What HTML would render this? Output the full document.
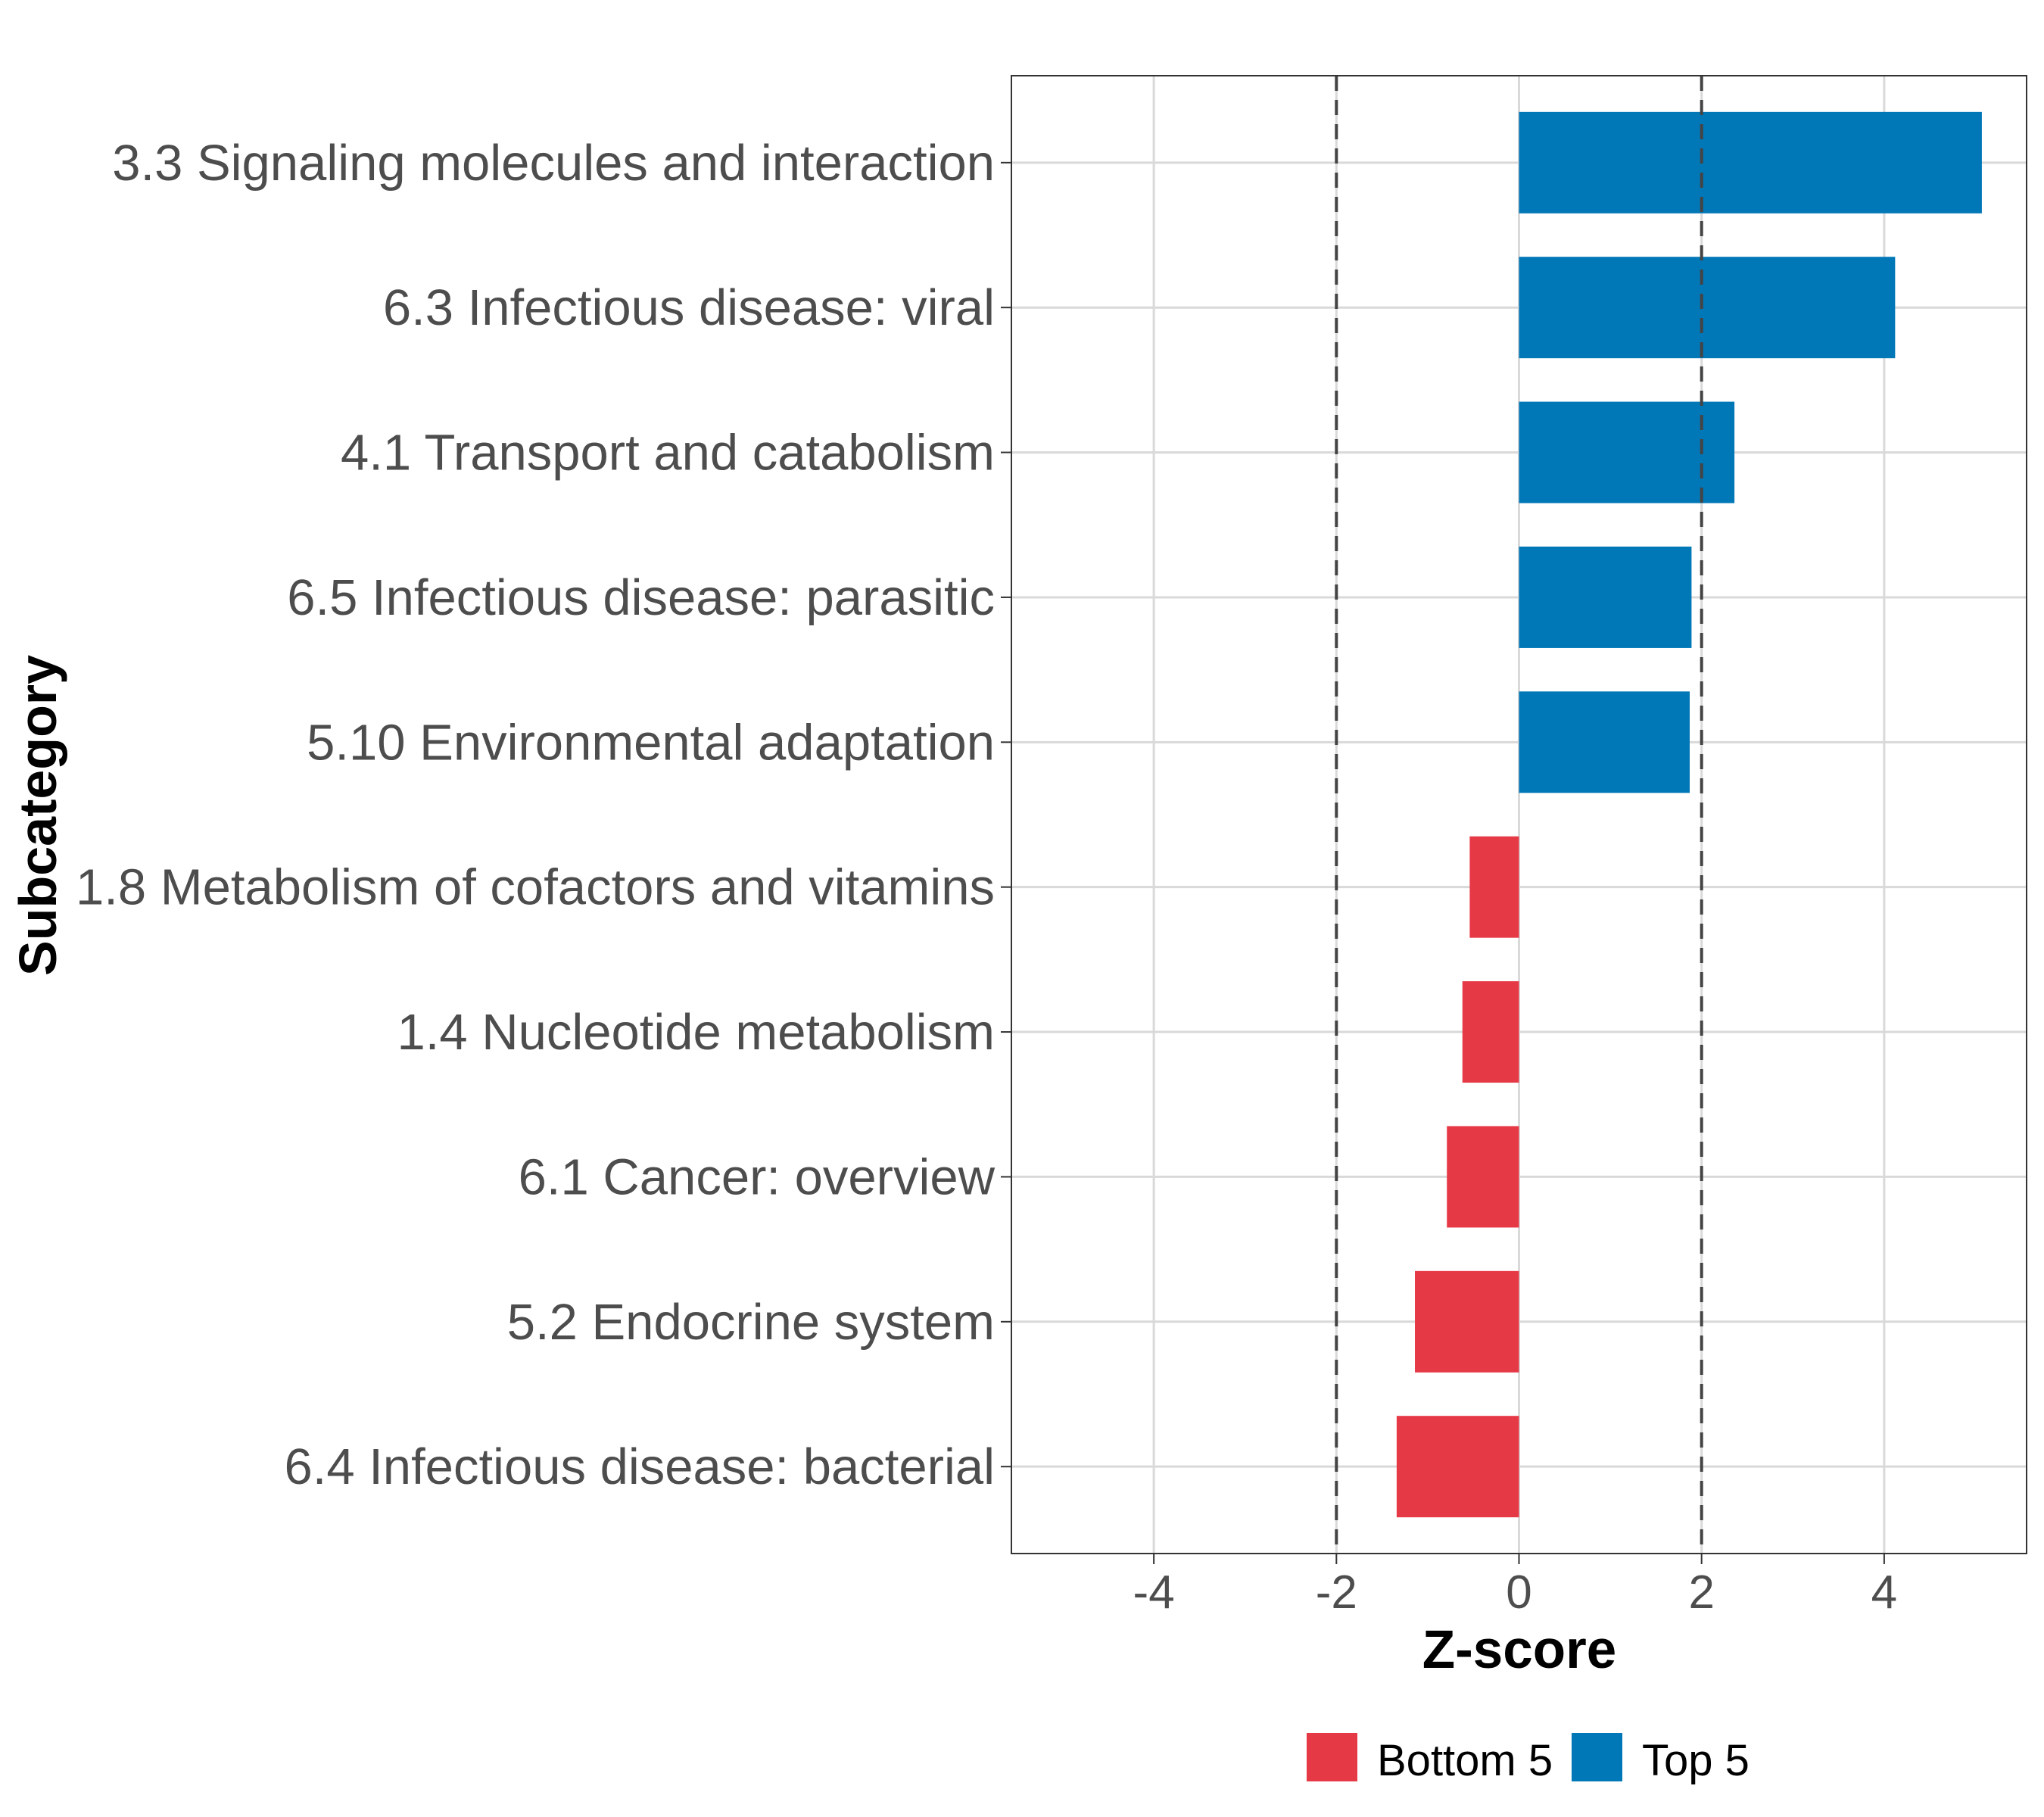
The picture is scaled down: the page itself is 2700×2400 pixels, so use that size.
<!DOCTYPE html>
<html><head><meta charset="utf-8"><style>
html,body{margin:0;padding:0;background:#fff;}
svg{display:block;font-family:"Liberation Sans",sans-serif;}
</style></head><body>
<svg id="chart" width="2700" height="2400" viewBox="0 0 2700 2400" xmlns="http://www.w3.org/2000/svg">
<rect width="2700" height="2400" fill="#fff"/>
<g id="grid"></g><g id="bars"></g><g id="ylabels"></g><g id="xlabels"></g>
<rect x="1336" y="100" width="1341" height="1952" fill="none" stroke="#333" stroke-width="2"/>
<text x="2007" y="2203" text-anchor="middle" font-size="71" font-weight="bold" fill="#000">Z-score</text>
<text transform="translate(74,1077) rotate(-90)" text-anchor="middle" font-size="70" font-weight="bold" fill="#000">Subcategory</text>
<g>
<rect x="1726" y="2289" width="67" height="64" fill="#E63946"/>
<text x="1819" y="2345" font-size="58" fill="#000">Bottom 5</text>
<rect x="2076" y="2289" width="67" height="64" fill="#0077B6"/>
<text x="2169" y="2345" font-size="58" fill="#000">Top 5</text>
</g>
</svg>
<script>
const categories=["3.3 Signaling molecules and interaction","6.3 Infectious disease: viral","4.1 Transport and catabolism","6.5 Infectious disease: parasitic","5.10 Environmental adaptation","1.8 Metabolism of cofactors and vitamins","1.4 Nucleotide metabolism","6.1 Cancer: overview","5.2 Endocrine system","6.4 Infectious disease: bacterial"];
const zscores=[5.07,4.12,2.36,1.89,1.87,-0.54,-0.62,-0.79,-1.14,-1.34];
const groups=["Top 5","Top 5","Top 5","Top 5","Top 5","Bottom 5","Bottom 5","Bottom 5","Bottom 5","Bottom 5"];
const xTicks=[-4,-2,0,2,4];
const xTickLabels=["-4","-2","0","2","4"];
const thresholds=[-2,2];
const NS="http://www.w3.org/2000/svg";
const L=1336,R=2677,T=100,B=2052,xmin=-5.56,xmax=5.56;
const x=v=>L+(v-xmin)/(xmax-xmin)*(R-L);
const step=(B-T)/(categories.length-1+1.2);
const y=i=>T+step*(i+0.6);
const bh=step*0.7;
function mk(tag,attrs,parent){const e=document.createElementNS(NS,tag);for(const k in attrs)e.setAttribute(k,attrs[k]);document.getElementById(parent).appendChild(e);return e;}
xTicks.forEach((t,i)=>{
 let g=mk('line',{x1:x(t),x2:x(t),y1:T,y2:B,stroke:'#d9d9d9','stroke-width':3},'grid');
 
 
 let tk=mk('line',{x1:x(t),x2:x(t),y1:B,y2:B+14,stroke:'#333','stroke-width':2},'xlabels');
 
 
 let lb=mk('text',{x:x(t),y:2124,'text-anchor':'middle','font-size':62,fill:'#4d4d4d'},'xlabels');
 lb.textContent=xTickLabels[i];
 
 
});
categories.forEach((c,i)=>{
 let g=mk('line',{x1:L,x2:R,y1:y(i),y2:y(i),stroke:'#d9d9d9','stroke-width':3},'grid');
 
 
 let tk=mk('line',{x1:L-14,x2:L,y1:y(i),y2:y(i),stroke:'#333','stroke-width':2},'ylabels');
 
 
 let lb=mk('text',{x:L-22,y:y(i)+23,'text-anchor':'end','font-size':67,fill:'#4d4d4d'},'ylabels');
 lb.textContent=c;
 
 
 const v=zscores[i];
 let b=mk('rect',{x:Math.min(x(0),x(v)),y:y(i)-bh/2,width:Math.abs(x(v)-x(0)),height:bh,fill:groups[i]==="Top 5"?'#0077B6':'#E63946'},'bars');
 
 
});
thresholds.forEach(t=>{
 let d=mk('line',{x1:x(t),x2:x(t),y1:T,y2:B,stroke:'#444','stroke-width':4,'stroke-dasharray':'20,12'},'bars');
 
 
});
</script>
</body></html>
